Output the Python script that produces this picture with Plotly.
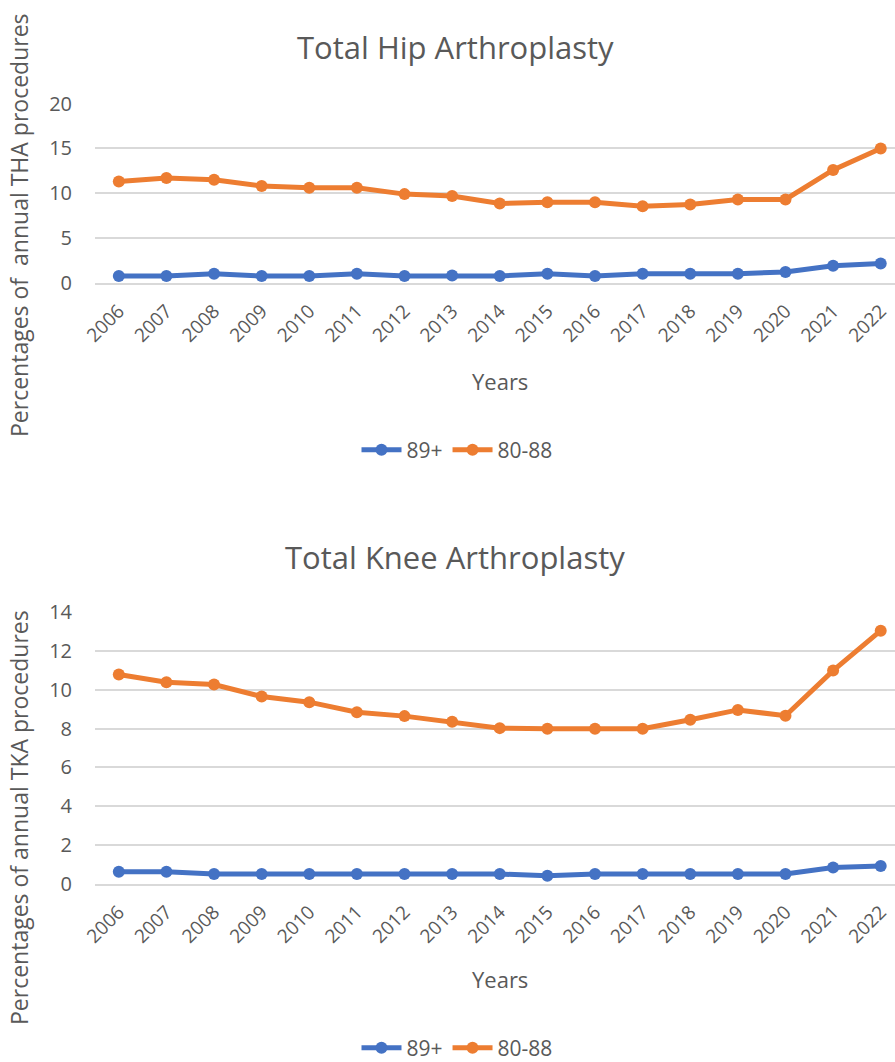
import plotly.graph_objects as go

years = [str(y) for y in range(2006, 2023)]

tha_89_plus = [0.75, 0.75, 1.0, 0.75, 0.75, 1.0, 0.75, 0.8, 0.75, 1.0, 0.75, 1.0, 1.0, 1.0, 1.2, 1.9, 2.15]
tha_80_88 = [11.3, 11.7, 11.5, 10.8, 10.6, 10.6, 9.9, 9.7, 8.85, 9.0, 9.0, 8.55, 8.75, 9.3, 9.3, 12.6, 15.0]

tka_89_plus = [0.62, 0.62, 0.5, 0.5, 0.5, 0.5, 0.5, 0.5, 0.5, 0.41, 0.5, 0.5, 0.5, 0.5, 0.5, 0.84, 0.91]
tka_80_88 = [10.8, 10.4, 10.28, 9.66, 9.37, 8.85, 8.65, 8.36, 8.03, 8.0, 8.0, 8.0, 8.46, 8.97, 8.67, 11.0, 13.06]

tha_yticks = [0, 5, 10, 15, 20]
tka_yticks = [0, 2, 4, 6, 8, 10, 12, 14]

BLUE = "#4472C4"
ORANGE = "#ED7D31"
GRAY = "#595959"
GRID = "#D9D9D9"
FONT = "Open Sans"

W, H = 895, 1062
L = 95

def px_x(x):
    return (x - L) / (W - L)

def px_y(y):
    return 1 - y / H

fig = go.Figure()

def add_pair(xa, ya, legend, s1, s2):
    fig.add_trace(go.Scatter(x=years, y=s1, name="89+", mode="lines+markers",
                             line=dict(color=BLUE, width=5), marker=dict(size=12, color=BLUE),
                             xaxis=xa, yaxis=ya, legend=legend))
    fig.add_trace(go.Scatter(x=years, y=s2, name="80-88", mode="lines+markers",
                             line=dict(color=ORANGE, width=5), marker=dict(size=12, color=ORANGE),
                             xaxis=xa, yaxis=ya, legend=legend))

add_pair("x", "y", "legend", tha_89_plus, tha_80_88)
add_pair("x2", "y2", "legend2", tka_89_plus, tka_80_88)

xcommon = dict(type="category", range=[-0.5, 16.3], showgrid=False, zeroline=False,
               showline=True, linecolor=GRID, linewidth=1.5, tickangle=-45,
               ticks="outside", ticklen=8, tickcolor="rgba(0,0,0,0)",
               tickfont=dict(family=FONT, size=19, color=GRAY), fixedrange=True)
ycommon = dict(showgrid=True, gridcolor=GRID, gridwidth=1.5, zeroline=False, showline=False,
               ticks="outside", ticklen=18, tickcolor="rgba(0,0,0,0)",
               tickfont=dict(family=FONT, size=20, color=GRAY), fixedrange=True)

legend_common = dict(orientation="h", xanchor="center", yanchor="middle",
                     font=dict(family=FONT, size=21, color=GRAY), itemwidth=40,
                     bgcolor="rgba(0,0,0,0)", tracegroupgap=0)

fig.update_layout(
    width=W, height=H,
    margin=dict(l=L, r=0, t=0, b=0, autoexpand=False),
    paper_bgcolor="white", plot_bgcolor="white",
    xaxis=dict(domain=[0, 1], anchor="y", **xcommon),
    yaxis=dict(domain=[px_y(282.7), px_y(103.3)], anchor="x", range=[0, 20.05],
               tickvals=tha_yticks, **ycommon),
    xaxis2=dict(domain=[0, 1], anchor="y2", **xcommon),
    yaxis2=dict(domain=[px_y(883.7), px_y(611.7)], anchor="x2", range=[0, 14.04],
                tickvals=tka_yticks, **ycommon),
    legend=dict(x=px_x(457), y=px_y(450), **legend_common),
    legend2=dict(x=px_x(457), y=px_y(1048), **legend_common),
    showlegend=True,
)

annots = [
    dict(text="Total Hip Arthroplasty", x=px_x(455), y=px_y(47), size=31, angle=0),
    dict(text="Total Knee Arthroplasty", x=px_x(455), y=px_y(557), size=31, angle=0),
    dict(text="Years", x=px_x(500), y=px_y(381), size=22, angle=0),
    dict(text="Years", x=px_x(500), y=px_y(979), size=22, angle=0),
    dict(text="Percentages of  annual THA procedures", x=px_x(19), y=px_y(225), size=23, angle=-90),
    dict(text="Percentages of annual TKA procedures", x=px_x(19), y=px_y(818), size=23, angle=-90),
]
for a in annots:
    fig.add_annotation(text=a["text"], x=a["x"], y=a["y"], xref="paper", yref="paper",
                       xanchor="center", yanchor="middle", showarrow=False, textangle=a["angle"],
                       font=dict(family=FONT, size=a["size"], color=GRAY))

fig.write_html("out.html", config={"displayModeBar": False},
               post_script="document.body.style.margin='0';document.body.style.overflow='hidden';")
